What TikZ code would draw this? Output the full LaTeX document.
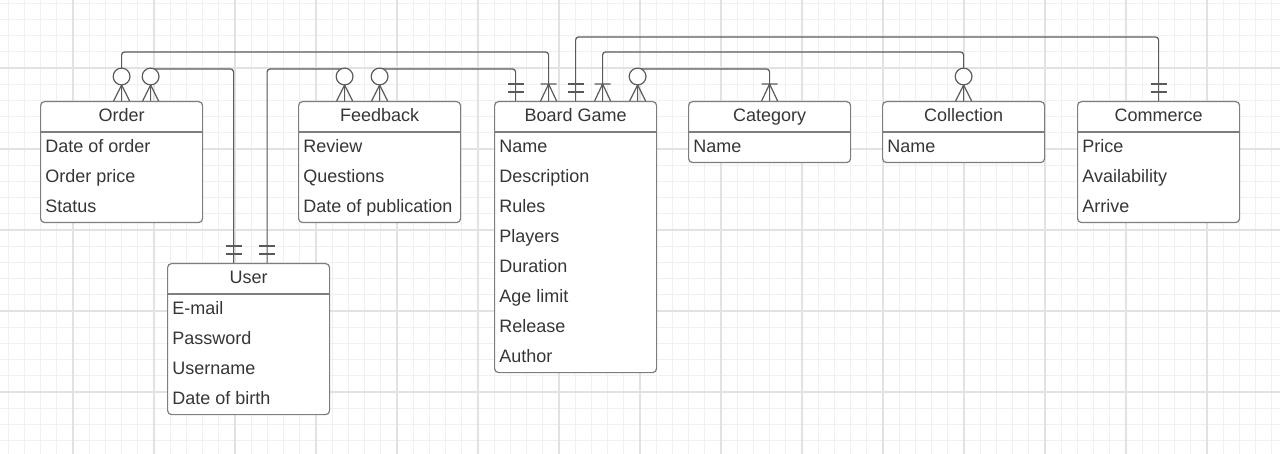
\documentclass[tikz,border=0pt]{standalone}
\usepackage{fontspec}
\setmainfont{Liberation Sans}

\definecolor{gridminor}{HTML}{F0F0F0}
\definecolor{gridmajor}{HTML}{E2E2E2}
\definecolor{edge}{HTML}{5A5A5A}
\definecolor{boxline}{HTML}{7E7E7E}
\definecolor{ink}{HTML}{363636}

\tikzset{
    erbox/.style={draw=boxline, fill=white, line width=0.6pt, rounded corners=2pt,
        anchor=north west, minimum width=81pt, inner sep=0pt},
    ertitle/.style={text=ink, inner sep=0pt, text height=6.4pt, text depth=0pt},
    erattr/.style={text=ink, anchor=west, inner sep=0pt, text height=6.4pt, text depth=0pt},
    conn/.style={draw=edge, line width=0.6pt},
    minorline/.style={draw=gridminor, line width=0.5pt},
    majorline/.style={draw=gridmajor, line width=0.6pt},
    % crow's foot ends, drawn pointing up from the box top
    zeromany/.pic={
        \draw[conn] (-8,0) -- (0,-16) -- (8,0);
        \draw[conn, fill=white] (0,-24.5) circle[radius=4.2pt];
    },
    onemany/.pic={
        \draw[conn] (-8,0) -- (0,-17) -- (8,0) (-8,-17) -- (8,-17);
    },
    oneone/.pic={
        \draw[conn] (-8,-9) -- (8,-9) (-8,-17) -- (8,-17);
    }
}

% entity: name, top left corner, title, attributes
\newcommand{\erentity}[4]{%
    \def\nrows{0}%
    \foreach \a [count=\i] in {#4} {\xdef\nrows{\i}}%
    \node[erbox, minimum height={15.5pt+15pt*\nrows}] (#1) at #2 {};
    \draw[draw=boxline, line width=0.6pt] ([yshift=-15.5pt]#1.north west) -- ([yshift=-15.5pt]#1.north east);
    \node[ertitle] (#1-title) at ([yshift=-7.1pt]#1.north) {#3};
    \foreach \a [count=\i] in {#4}
        \node[erattr] (#1-\i) at ([xshift=2.5pt, yshift={-7.5pt-15pt*\i}]#1.north west) {\a};
}

\begin{document}
\begin{tikzpicture}[x=0.5pt, y=-0.5pt, font=\fontsize{9}{10}\selectfont]
    \useasboundingbox (0,0) rectangle (1280,454);

    % background grid
    \begin{scope}
        \clip (0,0) rectangle (1280,454);
        \foreach \i in {-4,...,74} \draw[minorline] (73+16.2*\i,0) -- (73+16.2*\i,454);
        \foreach \j in {-4,...,24} \draw[minorline] (0,68+16.2*\j) -- (1280,68+16.2*\j);
        \foreach \i in {-1,...,15} \draw[majorline] (73+81*\i,0) -- (73+81*\i,454);
        \foreach \j in {-1,...,5} \draw[majorline] (0,68+81*\j) -- (1280,68+81*\j);
    \end{scope}

    % entities
    \erentity{order}{(40,101)}{Order}{Date of order, Order price, Status}
    \erentity{feedback}{(298,101)}{Feedback}{Review, Questions, Date of publication}
    \erentity{boardgame}{(494,101)}{Board Game}{Name, Description, Rules, Players, Duration, Age limit, Release, Author}
    \erentity{category}{(688,101)}{Category}{Name}
    \erentity{collection}{(882,101)}{Collection}{Name}
    \erentity{commerce}{(1077,101)}{Commerce}{Price, Availability, Arrive}
    \erentity{user}{(167,263)}{User}{E-mail, Password, Username, Date of birth}

    % relations
    \begin{scope}[rounded corners=1.5pt]
        \draw[conn] (order.north) -- ++(0,-49) -| ([xshift=-13.5pt]boardgame.north);
        \draw[conn] ([xshift=14.5pt]order.north) -- ++(0,-32) -| ([xshift=-7.5pt]user.north);
        \draw[conn] ([xshift=9.25pt]user.north) -- ++(0,-194) -| ([xshift=-17.5pt]feedback.north);
        \draw[conn] (feedback.north) -- ++(0,-32) -| ([xshift=-30pt]boardgame.north);
        \draw[conn] (boardgame.north) -- ++(0,-64) -| (commerce.north);
        \draw[conn] ([xshift=13.5pt]boardgame.north) -- ++(0,-49) -| (collection.north);
        \draw[conn] ([xshift=31pt]boardgame.north) -- ++(0,-32) -| (category.north);
    \end{scope}

    % relation ends
    \pic at (order.north) {zeromany};
    \pic at ([xshift=14.5pt]order.north) {zeromany};
    \pic at ([xshift=-7.5pt]user.north) {oneone};
    \pic at ([xshift=9.25pt]user.north) {oneone};
    \pic at ([xshift=-17.5pt]feedback.north) {zeromany};
    \pic at (feedback.north) {zeromany};
    \pic at ([xshift=-30pt]boardgame.north) {oneone};
    \pic at ([xshift=-13.5pt]boardgame.north) {onemany};
    \pic at (boardgame.north) {oneone};
    \pic at ([xshift=13.5pt]boardgame.north) {onemany};
    \pic at ([xshift=31pt]boardgame.north) {zeromany};
    \pic at (category.north) {onemany};
    \pic at (collection.north) {zeromany};
    \pic at (commerce.north) {oneone};
\end{tikzpicture}
\end{document}
